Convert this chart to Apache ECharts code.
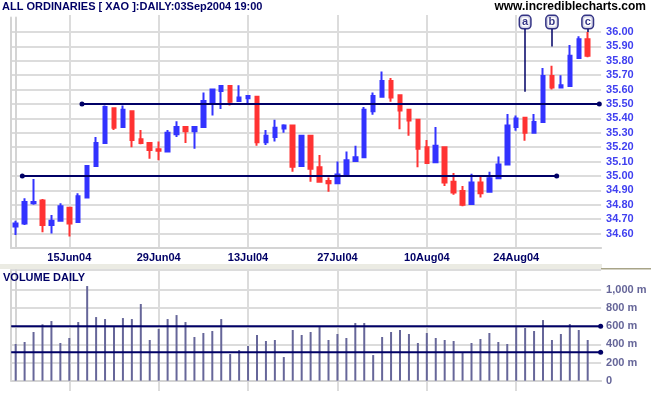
<!DOCTYPE html>
<html><head><meta charset="utf-8">
<script src="https://cdn.jsdelivr.net/npm/echarts@6/dist/echarts.min.js"></script>
<style>html,body{margin:0;padding:0;background:#fff}#c{width:651px;height:395px}</style>
</head><body><div id="c"></div>
<script>
const dates = ['04Jun04','07Jun04','08Jun04','09Jun04','10Jun04','11Jun04','15Jun04','16Jun04','17Jun04','18Jun04',
'21Jun04','22Jun04','23Jun04','24Jun04','25Jun04','28Jun04','29Jun04','30Jun04','01Jul04','02Jul04',
'05Jul04','06Jul04','07Jul04','08Jul04','09Jul04','12Jul04','13Jul04','14Jul04','15Jul04','16Jul04',
'19Jul04','20Jul04','21Jul04','22Jul04','23Jul04','26Jul04','27Jul04','28Jul04','29Jul04','30Jul04',
'02Aug04','03Aug04','04Aug04','05Aug04','06Aug04','09Aug04','10Aug04','11Aug04','12Aug04','13Aug04',
'16Aug04','17Aug04','18Aug04','19Aug04','20Aug04','23Aug04','24Aug04','25Aug04','26Aug04','27Aug04',
'30Aug04','31Aug04','01Sep04','02Sep04','03Sep04'];
const opens = [34.65,34.67,34.81,34.83,34.66,34.69,34.78,34.68,34.85,35.07,
35.23,35.47,35.34,35.45,35.255,35.23,35.185,35.17,35.29,35.34,
35.31,35.34,35.505,35.59,35.625,35.52,35.54,35.55,35.235,35.27,
35.33,35.35,35.07,35.28,35.06,34.965,34.95,35.0,35.105,35.13,
35.45,35.55,35.66,35.56,35.46,35.39,35.20,35.095,35.20,34.96,
34.895,34.805,34.955,34.89,34.985,35.08,35.34,35.405,35.30,35.375,
35.695,35.615,35.625,35.82,35.95];
const closes = [34.67,34.82,34.82,34.66,34.69,34.79,34.67,34.86,35.07,35.23,
35.48,35.335,35.46,35.25,35.23,35.18,35.175,35.30,35.34,35.31,
35.34,35.52,35.60,35.625,35.515,35.545,35.555,35.235,35.28,35.335,
35.35,35.065,35.28,35.05,34.96,34.95,35.01,35.11,35.13,35.46,
35.555,35.66,35.545,35.455,35.385,35.19,35.09,35.21,34.955,34.885,
34.80,34.955,34.88,34.985,35.08,35.35,35.40,35.30,35.375,35.695,
35.615,35.63,35.835,35.95,35.835];
const lows = [34.59,34.66,34.80,34.61,34.60,34.69,34.58,34.68,34.85,35.07,
35.23,35.32,35.34,35.20,35.22,35.12,35.11,35.17,35.27,35.23,
35.19,35.34,35.42,35.465,35.49,35.52,35.50,35.21,35.215,35.24,
35.30,35.03,35.07,34.96,34.96,34.89,34.95,35.0,35.105,35.13,
35.425,35.55,35.515,35.325,35.28,35.06,35.09,35.095,34.93,34.87,
34.79,34.805,34.85,34.89,34.985,35.08,35.315,35.245,35.30,35.375,
35.60,35.615,35.625,35.82,35.825];
const highs = [34.69,34.845,34.98,34.84,34.73,34.81,34.78,34.88,35.07,35.27,
35.49,35.47,35.49,35.45,35.32,35.235,35.24,35.32,35.38,35.34,
35.34,35.58,35.60,35.625,35.625,35.63,35.555,35.55,35.32,35.39,
35.36,35.35,35.28,35.28,35.145,34.99,35.10,35.17,35.21,35.48,
35.58,35.725,35.68,35.565,35.46,35.39,35.25,35.34,35.20,35.02,
34.93,35.015,34.995,35.03,35.135,35.43,35.42,35.41,35.43,35.75,
35.765,35.70,35.91,35.97,36.00];
const volumes = [405,427,537,622,658,416,471,647,1044,702,
680,603,691,680,846,449,570,680,724,647,
482,526,548,680,294,338,383,504,438,449,
261,559,504,537,603,449,515,471,636,636,
283,482,537,559,515,416,526,471,449,438,
316,416,460,526,427,405,603,581,548,669,
449,515,625,559,449];
const gridDates = ['15Jun04','29Jun04','13Jul04','27Jul04','10Aug04','24Aug04'];
const supportLevels = [35.0, 35.5];
const supportStart = [0.74, 7.42];
const supportEnd = [60.53, 65.3];
const volumeLevels = [600, 313];
const annotLabels = ['a','b','c'];
const annotIdx = [57, 60, 64];
const annotTarget = [35.585, 35.90, 36.00];

const NAVY = '#000066';
const GRID = '#dcdcdc';
const FONT = "'Liberation Sans', Arial, sans-serif";
const cats = dates.concat(['']);
const labelIdx = gridDates.map(d => dates.indexOf(d));

const candleData = dates.map((d, i) => [opens[i], closes[i], lows[i], highs[i]]);

const chart = echarts.init(document.getElementById('c'), null, {renderer: 'canvas'});

const gridL = 11.2, gridR = 49.9;
const W = 651;
const band = (W - gridL - gridR) / cats.length;
const firstG = labelIdx[0], lastG = labelIdx[labelIdx.length - 1];
const gStep = labelIdx[1] - labelIdx[0];
const ovLeft = gridL + (firstG + 0.5) * band;
const ovRight = W - (gridL + (lastG + 0.5) * band);

const series = [];
series.push({
  type: 'candlestick', xAxisIndex: 0, yAxisIndex: 0, data: candleData, barWidth: 4, z: 3,
  itemStyle: {color: '#3333ff', color0: '#ff3333', borderColor: '#3333ff', borderColor0: '#ff3333', borderWidth: 2}
});
supportLevels.forEach((lv, k) => {
  series.push({
    type: 'line', xAxisIndex: 1, yAxisIndex: 0, z: 4, silent: true,
    data: [[supportStart[k], lv], [supportEnd[k], lv]],
    symbol: 'circle', symbolSize: 5, showSymbol: true,
    itemStyle: {color: NAVY}, lineStyle: {color: NAVY, width: 2}
  });
});
series.push({
  type: 'scatter', xAxisIndex: 0, yAxisIndex: 0, z: 6, silent: true,
  data: annotIdx.map((ix, k) => ({value: [ix, 36.069], name: annotLabels[k]})),
  symbolSize: 0, clip: false,
  label: {show: true, position: 'inside', formatter: p => p.name, fontFamily: FONT, fontSize: 11, fontWeight: 'bold',
    color: NAVY, backgroundColor: '#fff', borderColor: NAVY, borderWidth: 1.5, borderRadius: 3, padding: [1, 2, 0, 2]},
  markLine: {silent: true, symbol: 'none', z: 5, animation: false, label: {show: false},
    lineStyle: {color: NAVY, width: 1.5, type: 'solid'},
    data: annotIdx.map((ix, k) => [{coord: [ix, 36.02]}, {coord: [ix, annotTarget[k]]}])}
});
series.push({
  type: 'bar', xAxisIndex: 2, yAxisIndex: 2, data: volumes, barWidth: 2, z: 3,
  itemStyle: {color: '#666699'}
});
volumeLevels.forEach(lv => {
  series.push({
    type: 'line', xAxisIndex: 3, yAxisIndex: 2, z: 4, silent: true,
    data: [{value: [-0.5, lv], symbol: 'none'}, {value: [65.45, lv], symbol: 'circle', symbolSize: 5}],
    showSymbol: true, itemStyle: {color: NAVY}, lineStyle: {color: NAVY, width: 2}
  });
});

const overlayX = (gi) => ({
  type: 'value', gridIndex: gi, min: firstG, max: lastG, interval: gStep, show: true,
  axisLine: {show: false}, axisTick: {show: false}, axisLabel: {show: false},
  splitLine: {show: true, showMinLine: true, showMaxLine: true, lineStyle: {color: GRID, width: 2}}
});
const overlayY = (gi) => ({type: 'value', gridIndex: gi, min: 0, max: 1, show: false});

const option = {
  animation: false,
  backgroundColor: '#ffffff',
  textStyle: {fontFamily: FONT},
  grid: [
    {left: gridL, right: gridR, top: 17.6, height: 230.4},
    {left: gridL, right: gridR, top: 270.1, height: 110.6},
    {left: ovLeft, right: ovRight, top: 15, height: 232},
    {left: ovLeft, right: ovRight, top: 270, bottom: 4}
  ],
  xAxis: [
    {type: 'category', gridIndex: 0, data: cats, boundaryGap: true,
      axisLine: {show: true, lineStyle: {color: '#d4d4d4', width: 2}},
      axisTick: {show: false}, splitLine: {show: false},
      axisLabel: {interval: (i) => labelIdx.indexOf(i) >= 0, margin: 4, color: NAVY, fontSize: 11, fontWeight: 'bold', fontFamily: FONT}},
    {type: 'value', gridIndex: 0, min: -0.5, max: 65.5, show: false},
    {type: 'category', gridIndex: 1, data: cats, boundaryGap: true, offset: 6,
      axisLine: {show: true, lineStyle: {color: '#d4d4d4', width: 2}},
      axisTick: {show: false}, splitLine: {show: false}, axisLabel: {show: false}},
    {type: 'value', gridIndex: 1, min: -0.5, max: 65.5, show: false},
    overlayX(2),
    overlayX(3)
  ],
  yAxis: [
    {type: 'value', gridIndex: 0, position: 'right', min: 34.5, max: 36.1, interval: 0.1,
      axisLine: {show: true, lineStyle: {color: '#d4d4d4', width: 2}}, axisTick: {show: false},
      splitLine: {show: true, showMaxLine: false, lineStyle: {color: GRID, width: 2}},
      axisLabel: {margin: 5, color: '#4040f0', fontSize: 11, fontWeight: 'bold', fontFamily: FONT,
        formatter: v => (v < 34.55 || v > 36.05) ? '' : v.toFixed(2)}},
    {type: 'value', gridIndex: 0, position: 'left', min: 34.5, max: 36.1, show: true,
      axisLine: {show: true, lineStyle: {color: '#d4d4d4', width: 2}}, axisTick: {show: false},
      splitLine: {show: false}, axisLabel: {show: false}},
    {type: 'value', gridIndex: 1, position: 'right', min: 0, max: 1220, interval: 200,
      axisLine: {show: true, lineStyle: {color: '#d4d4d4', width: 2}}, axisTick: {show: false},
      splitLine: {show: true, showMaxLine: true, lineStyle: {color: [GRID, GRID, GRID, GRID, GRID, GRID, 'rgba(0,0,0,0)', GRID], width: 2}},
      axisLabel: {margin: 5, color: '#666699', fontSize: 11, fontWeight: 'bold', fontFamily: FONT,
        formatter: v => v === 0 ? '0' : (v > 1100 ? '' : v.toLocaleString('en-US') + ' m')}},
    {type: 'value', gridIndex: 1, position: 'left', min: 0, max: 1220, show: true,
      axisLine: {show: true, lineStyle: {color: '#d4d4d4', width: 2}}, axisTick: {show: false},
      splitLine: {show: false}, axisLabel: {show: false}},
    overlayY(2),
    overlayY(3)
  ],
  series: series,
  graphic: [
    {type: 'rect', left: 0, top: 264, shape: {width: 602, height: 5}, style: {fill: '#ebebe3'}, silent: true},
    {type: 'rect', left: 601, top: 268, shape: {width: 50, height: 1.5}, style: {fill: '#a8a488'}, silent: true},
    {type: 'text', left: 2, top: 1, style: {text: 'ALL ORDINARIES [ XAO ]:DAILY:03Sep2004 19:00', fill: NAVY, font: "bold 11px 'Liberation Sans', Arial, sans-serif"}},
    {type: 'text', right: 5, top: 1, style: {text: 'www.incrediblecharts.com', fill: '#000', font: "bold 12px 'Liberation Sans', Arial, sans-serif"}},
    {type: 'text', left: 3, top: 272, z: 10, style: {text: 'VOLUME DAILY', fill: NAVY, font: "bold 11px 'Liberation Sans', Arial, sans-serif"}}
  ]
};
chart.setOption(option);
</script>
</body></html>
